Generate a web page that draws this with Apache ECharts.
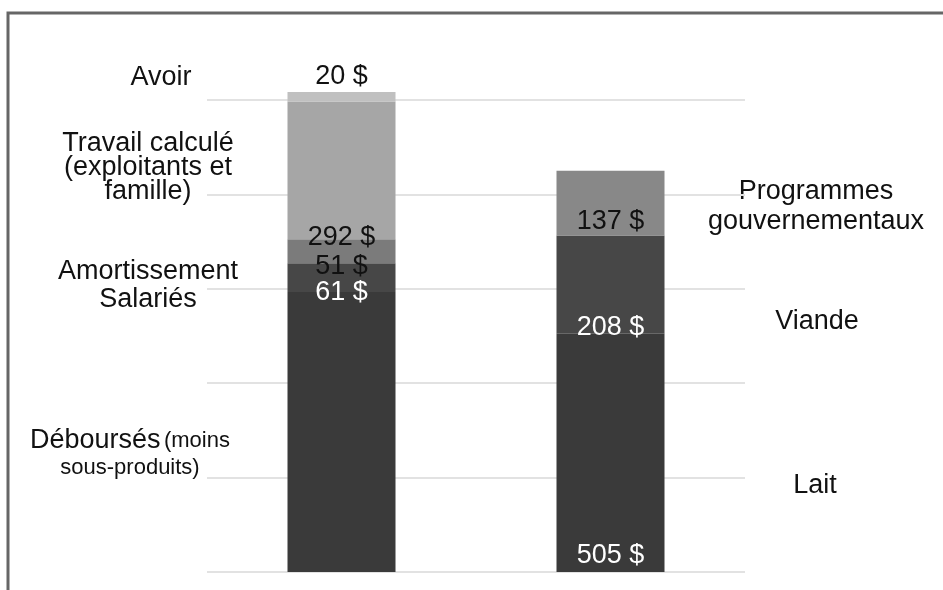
<!DOCTYPE html>
<html>
<head>
    <meta charset="utf-8">
    <title>Coûts et revenus</title>
    <script src="https://cdn.jsdelivr.net/npm/echarts@6/dist/echarts.min.js"></script>
    <style>
        html, body { margin: 0; padding: 0; background: #ffffff; }
        #main { width: 943px; height: 590px; }
    </style>
</head>
<body>
    <div id="main"></div>
    <script>
        // deux colonnes : coûts / revenus
        var categories = ['Coûts', 'Revenus'];

        // colonne de gauche (du bas vers le haut)
        var coutNoms = ['Déboursés', 'Salariés', 'Amortissement', 'Travail calculé', 'Avoir'];
        var coutValeurs = [593, 61, 51, 292, 20];
        var coutCouleurs = ['#3a3a3a', '#474747', '#7b7b7b', '#a6a6a6', '#c0c0c0'];
        var coutTexte = [null, '#ffffff', '#111111', '#111111', '#111111'];

        // colonne de droite
        var revNoms = ['Lait', 'Viande', 'Programmes gouvernementaux'];
        var revValeurs = [505, 208, 137];
        var revCouleurs = ['#3a3a3a', '#474747', '#888888'];
        var revTexte = ['#ffffff', '#ffffff', '#111111'];

        // axe y (caché, seulement la grille)
        var yMax = 1000;
        var yPas = 200;

        var police = "'Liberation Sans', Arial, sans-serif";
        var taille = 27;

        // décalage vertical des étiquettes (à l'œil)
        var coutDecal = [0, 14, 17, 12, 0];
        var revDecal = [-3, 7, 0];

        var series = [];
        coutNoms.forEach(function (nom, i) {
            var lbl = { show: false };
            if (coutTexte[i]) {
                lbl = {
                    show: true,
                    position: i === 4 ? 'top' : 'insideBottom',
                    distance: i === 4 ? 2 : 0,
                    offset: [0, coutDecal[i]],
                    color: coutTexte[i],
                    fontSize: taille,
                    fontFamily: police,
                    formatter: function (p) { return p.value + ' $'; }
                };
            }
            series.push({
                name: nom,
                type: 'bar',
                stack: 'total',
                barWidth: 108,
                clip: false,
                itemStyle: { color: coutCouleurs[i] },
                label: lbl,
                data: [coutValeurs[i], '-']
            });
        });
        revNoms.forEach(function (nom, i) {
            series.push({
                name: nom,
                type: 'bar',
                stack: 'total',
                barWidth: 108,
                clip: false,
                itemStyle: { color: revCouleurs[i] },
                label: {
                    show: true,
                    position: 'insideBottom',
                    distance: 0,
                    offset: [0, revDecal[i]],
                    color: revTexte[i],
                    fontSize: taille,
                    fontFamily: police,
                    formatter: function (p) { return p.value + ' $'; }
                },
                data: ['-', revValeurs[i]]
            });
        });

        var txt = function (x, y, s, lh) {
            return {
                type: 'text',
                x: x,
                y: y,
                style: {
                    text: s,
                    fill: '#111111',
                    font: taille + 'px ' + police,
                    align: 'center',
                    verticalAlign: 'middle',
                    lineHeight: lh || 27
                }
            };
        };

        var myChart = echarts.init(document.getElementById('main'));
        myChart.setOption({
            animation: false,
            grid: { left: 207, right: 198, top: 100, bottom: 18 },
            xAxis: {
                type: 'category',
                data: categories,
                axisLine: { show: false },
                axisTick: { show: false },
                axisLabel: { show: false }
            },
            yAxis: {
                type: 'value',
                min: 0,
                max: yMax,
                interval: yPas,
                axisLine: { show: false },
                axisTick: { show: false },
                axisLabel: { show: false },
                splitLine: { lineStyle: { color: '#e2e2e2', width: 2 } }
            },
            series: series,
            graphic: [
                {
                    type: 'rect',
                    shape: { x: 8, y: 13, width: 1000, height: 1000 },
                    style: { fill: 'none', stroke: '#666666', lineWidth: 3 },
                    z: -10
                },
                txt(161, 78, 'Avoir'),
                txt(148, 168, 'Travail calculé\n(exploitants et\nfamille)', 24),
                txt(148, 286, 'Amortissement\nSalariés', 28),
                {
                    type: 'text',
                    x: 130,
                    y: 454,
                    style: {
                        text: '{a|Déboursés} {b|(moins}\n{b|sous-produits)}',
                        align: 'center',
                        verticalAlign: 'middle',
                        rich: {
                            a: { fontSize: taille, fontFamily: police, fill: '#111111', lineHeight: 27 },
                            b: { fontSize: 22, fontFamily: police, fill: '#111111', lineHeight: 27 }
                        }
                    }
                },
                txt(816, 207, 'Programmes\ngouvernementaux', 30),
                txt(817, 322, 'Viande'),
                txt(815, 486, 'Lait')
            ]
        });
    </script>
</body>
</html>
